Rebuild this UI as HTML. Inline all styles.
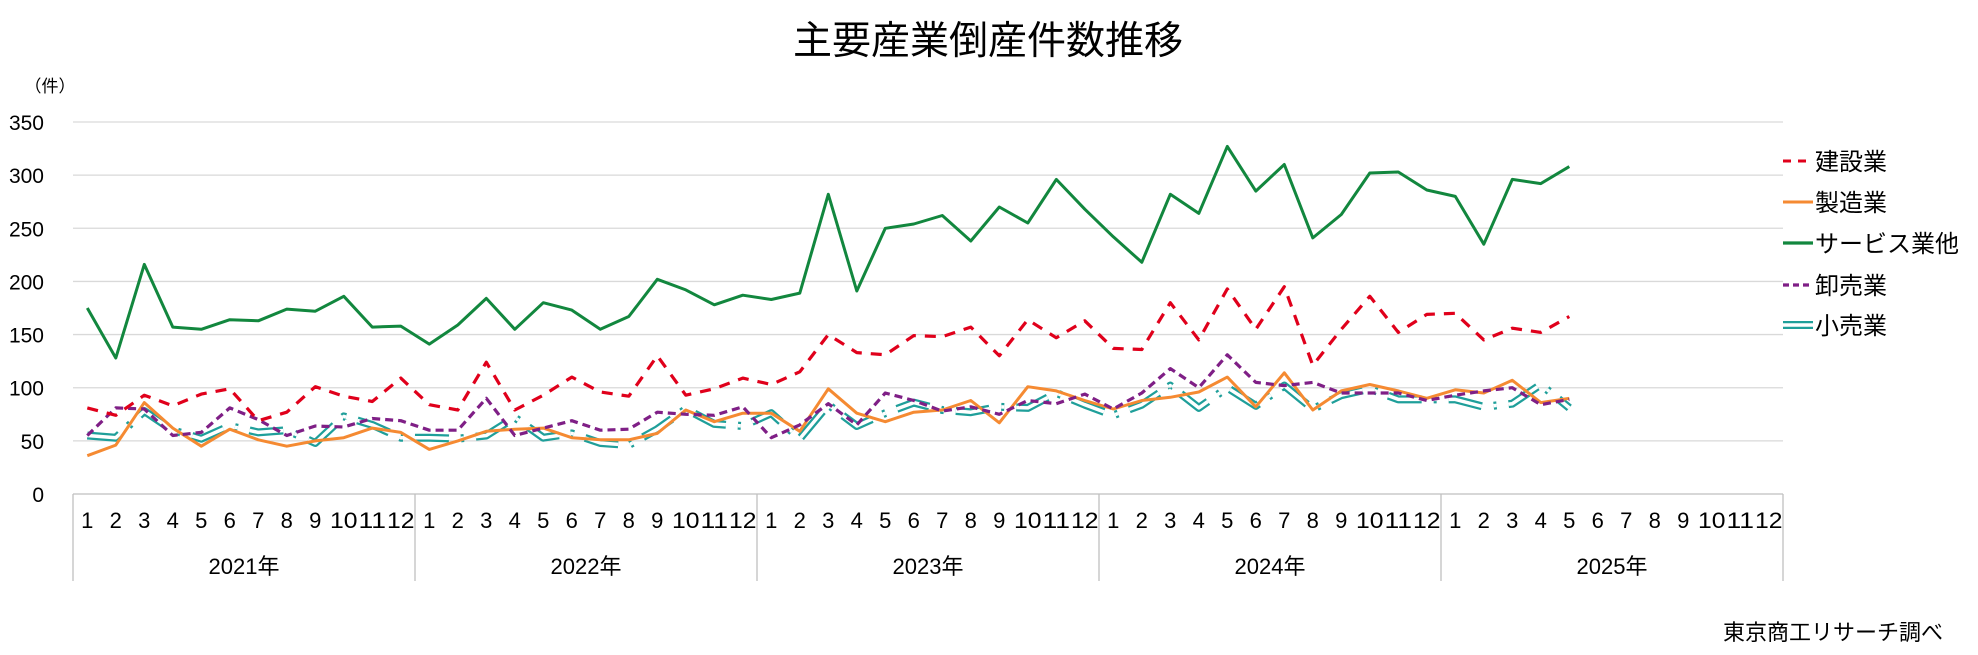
<!DOCTYPE html>
<html><head><meta charset="utf-8"><style>
html,body{margin:0;padding:0;background:#fff;}
svg{display:block;font-family:"Liberation Sans","Noto Sans CJK JP",sans-serif;}
</style></head><body>
<svg id="chart" width="1978" height="655" viewBox="0 0 1978 655">
<text x="988" y="54" font-size="39" text-anchor="middle" fill="#000">主要産業倒産件数推移</text>
<text x="50" y="92" font-size="17" text-anchor="middle" fill="#000">（件）</text>
<g id="grid"></g>
<g id="yticks"></g>
<g id="xaxis"></g>
<g id="series"></g>
<g id="legend"></g>
<text x="1943" y="640" font-size="22" text-anchor="end" fill="#000">東京商工リサーチ調べ</text>
</svg>
<script>
const years = ["2021年","2022年","2023年","2024年","2025年"];
const months = ["1","2","3","4","5","6","7","8","9","10","11","12"];
const yTicks = [0,50,100,150,200,250,300,350];
const construction = [81,74,93,83,94,99,69,77,101,92,87,109, 84,79,124,79,93,110,96,92,130,93,99,109, 103,115,150,133,131,149,148,157,130,164,147,163, 137,136,180,145,193,155,195,121,155,186,152,169, 170,145,156,152,167];
const manufacturing = [36,46,86,62,45,61,51,45,50,53,62,58, 42,50,59,61,62,53,51,51,57,79,68,76, 76,59,99,76,68,77,79,88,67,101,97,88, 80,88,91,96,110,82,114,79,97,103,97,90, 98,95,107,86,90];
const services = [175,128,216,157,155,164,163,174,172,186,157,158, 141,159,184,155,180,173,155,167,202,192,178,187, 183,189,282,191,250,254,262,238,270,255,296,268, 242,218,282,264,327,285,310,241,263,302,303,286, 280,235,296,292,308];
const wholesale = [55,81,80,55,58,81,70,55,64,63,71,69, 60,60,90,55,62,69,60,61,77,75,74,82, 53,65,85,65,95,88,78,82,75,88,85,94, 80,95,118,100,131,105,102,105,95,95,95,88, 93,97,100,84,89];
const retail = [55,53,78,60,52,64,58,60,48,73,65,53, 53,52,55,72,53,57,48,46,61,80,66,64, 76,52,84,64,76,86,79,77,82,81,95,84, 74,84,102,81,100,83,102,80,93,99,89,89, 89,82,85,103,81];
const seriesNames = ["建設業","製造業","サービス業他","卸売業","小売業"];

const NS="http://www.w3.org/2000/svg";
const L=73,R=1783,T=122,B=494,YMAX=350,N=60;
const step=(R-L)/N;
function xPos(i){return L+step*(i+0.5);}
function yPos(v){return B-(v/YMAX)*(B-T);}
function mk(tag,attrs,parent){const e=document.createElementNS(NS,tag);for(const k in attrs)e.setAttribute(k,attrs[k]);parent.appendChild(e);return e;}

const grid=document.getElementById('grid'), yt=document.getElementById('yticks');
yTicks.forEach(v=>{
  if(v>0){const g=mk('line',{x1:L,x2:R,y1:yPos(v),y2:yPos(v),stroke:'#d9d9d9','stroke-width':1.3},grid);
  
  }
  const t=mk('text',{x:44,y:yPos(v)+8,'font-size':21,'text-anchor':'end',fill:'#000'},yt);
  t.textContent=v;
  
  
});
const xa=document.getElementById('xaxis');
mk('line',{x1:L,x2:R,y1:B,y2:B,stroke:'#bfbfbf','stroke-width':1.3},xa);
for(let y=0;y<=years.length;y++){
  const x=L+step*12*y;
  mk('line',{x1:x,x2:x,y1:B,y2:581,stroke:'#bfbfbf','stroke-width':1.3},xa);
}
years.forEach((yr,yi)=>{
  months.forEach((m,mi)=>{
    const i=yi*12+mi;
    const t=mk('text',{x:xPos(i),y:528,'font-size':22,'text-anchor':'middle',fill:'#000'},xa);
    if(m.length>1){t.setAttribute('textLength',step-1);t.setAttribute('lengthAdjust','spacingAndGlyphs');}
    t.textContent=m;
    
    
  });
  const t=mk('text',{x:L+step*12*(yi+0.5),y:574,'font-size':22,'text-anchor':'middle',fill:'#000'},xa);
  t.textContent=yr;
  
  
});

const sg=document.getElementById('series');
function pathFor(arr){return arr.map((v,i)=>(i?'L':'M')+xPos(i).toFixed(1)+' '+yPos(v).toFixed(1)).join(' ');}
const r1=mk('path',{d:pathFor(retail),fill:'none',stroke:'#1f9f9a','stroke-width':8,'stroke-dasharray':'34 12 3 12','stroke-linejoin':'round'},sg);


const r2=mk('path',{d:pathFor(retail),fill:'none',stroke:'#ffffff','stroke-width':3.5,'stroke-dasharray':'34 12 3 12','stroke-linejoin':'round'},sg);


const styles=[
  {data:manufacturing,color:'#f58a32',w:3,dash:'',name:'manufacturing-line'},
  {data:wholesale,color:'#7f1f86',w:3.2,dash:'8 5',name:'wholesale-line'},
  {data:construction,color:'#e0001b',w:3.2,dash:'11 9',name:'construction-line'},
  {data:services,color:'#12873e',w:3,dash:'',name:'services-line'},
];
styles.forEach(s=>{
  const p=mk('path',{d:pathFor(s.data),fill:'none',stroke:s.color,'stroke-width':s.w,'stroke-linejoin':'round'},sg);
  if(s.dash)p.setAttribute('stroke-dasharray',s.dash);
  
  
});

const lg=document.getElementById('legend');
const legY=[161,202,243,285,325];
const legStyle=[['#e0001b','8 7',3],['#f58a32','',3],['#12873e','',3.2],['#7f1f86','6 4',3.2],['#1f9f9a','',8]];
seriesNames.forEach((nm,i)=>{
  const g=mk('g',{},lg);
  
  
  const ln=mk('line',{x1:1783,x2:1813,y1:legY[i],y2:legY[i],stroke:legStyle[i][0],'stroke-width':legStyle[i][2]},g);
  if(legStyle[i][1])ln.setAttribute('stroke-dasharray',legStyle[i][1]);
  if(i===4)mk('line',{x1:1783,x2:1813,y1:legY[i],y2:legY[i],stroke:'#fff','stroke-width':3.5},g);
  const t=mk('text',{x:1815,y:legY[i]+9,'font-size':24,fill:'#000'},g);
  t.textContent=nm;
});
</script>
</body></html>
